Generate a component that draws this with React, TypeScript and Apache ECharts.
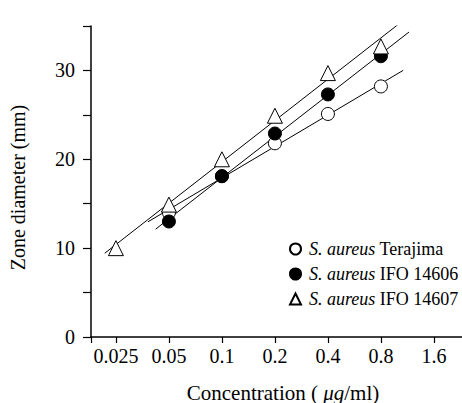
import React, { useEffect, useRef } from "react";
import * as echarts from "echarts";

const FONT = "Liberation Serif";
const BASE = 0.025;

const xTickValues = [0.025, 0.05, 0.1, 0.2, 0.4, 0.8, 1.6];
const xTickLabels = ["0.025", "0.05", "0.1", "0.2", "0.4", "0.8", "1.6"];

const strainNames = ["Terajima", "IFO 14606", "IFO 14607"];

const terajimaConc = [0.05, 0.1, 0.2, 0.4, 0.8];
const terajimaZone = [14.0, 18.1, 21.8, 25.1, 28.2];
const terajimaFitRange = [0.038, 1.07];

const ifo14606Conc = [0.05, 0.1, 0.2, 0.4, 0.8];
const ifo14606Zone = [13.0, 18.1, 22.9, 27.3, 31.6];
const ifo14606FitRange = [0.042, 1.155];

const ifo14607Conc = [0.025, 0.05, 0.1, 0.2, 0.4, 0.8];
const ifo14607Zone = [10.0, 14.9, 20.0, 24.9, 29.7, 32.7];
const ifo14607FitRange = [0.0216, 1.17];

const pos = (c: number) => Math.log2(c / BASE);

function fit(conc: number[], zone: number[], range: number[]) {
  const xs = conc.map(pos);
  const n = xs.length;
  const mx = xs.reduce((a, b) => a + b, 0) / n;
  const my = zone.reduce((a, b) => a + b, 0) / n;
  let sxy = 0;
  let sxx = 0;
  for (let i = 0; i < n; i++) {
    sxy += (xs[i] - mx) * (zone[i] - my);
    sxx += (xs[i] - mx) * (xs[i] - mx);
  }
  const slope = sxy / sxx;
  return range.map((c) => {
    const x = pos(c);
    return [x, my + slope * (x - mx)];
  });
}

export default function App() {
  const ref = useRef<HTMLDivElement>(null);
  useEffect(() => {
    if (!ref.current) return;
    const chart = echarts.init(ref.current, null, { renderer: "svg" });
    const xMin = -0.47;
    const xMax = 6.53;
    const groups = [
      { name: "S. aureus " + strainNames[0], conc: terajimaConc, zone: terajimaZone, range: terajimaFitRange, symbol: "circle", fill: "#fff", size: 13 },
      { name: "S. aureus " + strainNames[1], conc: ifo14606Conc, zone: ifo14606Zone, range: ifo14606FitRange, symbol: "circle", fill: "#000", size: 13 },
      { name: "S. aureus " + strainNames[2], conc: ifo14607Conc, zone: ifo14607Zone, range: ifo14607FitRange, symbol: "triangle", fill: "#fff", size: 15 },
    ];
    const series: any[] = [];
    groups.forEach((g) => {
      series.push({
        type: "line",
        data: fit(g.conc, g.zone, g.range),
        symbol: "none",
        lineStyle: { color: "#000", width: 1 },
        z: 1,
        silent: true,
      });
    });
    groups.forEach((g) => {
      series.push({
        type: "scatter",
        name: g.name,
        data: g.conc.map((c, i) => [pos(c), g.zone[i]]),
        symbol: g.symbol,
        symbolSize: g.size,
        itemStyle: { color: g.fill, borderColor: "#000", borderWidth: 1, opacity: 1 },
        z: 3,
      });
    });
    const tickPositions = xTickValues.map(pos);
    chart.setOption({
      animation: false,
      backgroundColor: "#fff",
      grid: { left: 91, right: 0, top: 26, bottom: 66, containLabel: false, outerBoundsMode: "none" },
      xAxis: {
        type: "value",
        min: xMin,
        max: xMax,
        splitLine: { show: false },
        axisLine: { onZero: false, lineStyle: { color: "#000", width: 1.5 } },
        axisTick: { show: true, length: 6, customValues: [xMin, ...tickPositions], lineStyle: { color: "#000", width: 1.2 } },
        axisLabel: {
          customValues: tickPositions,
          formatter: (v: number) => {
            const i = tickPositions.findIndex((p) => Math.abs(p - v) < 1e-6);
            return i >= 0 ? xTickLabels[i] : "";
          },
          color: "#000",
          fontFamily: FONT,
          fontSize: 20,
          margin: 9,
        },
        name: "Concentration ( {mu|μg}/ml)",
        nameLocation: "middle",
        nameGap: 45,
        nameTextStyle: {
          color: "#000",
          fontFamily: FONT,
          fontSize: 21,
          lineHeight: 21,
          padding: [0, 0, 0, 13],
          rich: { mu: { fontFamily: FONT, fontStyle: "italic", fontSize: 21, lineHeight: 21, color: "#000" } },
        },
      },
      yAxis: {
        type: "value",
        min: 0,
        max: 35,
        interval: 5,
        splitLine: { show: false },
        axisLine: { onZero: false, lineStyle: { color: "#000", width: 1.5 } },
        axisTick: { show: true, length: 8, lineStyle: { color: "#000", width: 1.2 } },
        axisLabel: {
          formatter: (v: number) => (v % 10 === 0 ? String(v) : ""),
          color: "#000",
          fontFamily: FONT,
          fontSize: 20,
          margin: 16,
        },
        name: "Zone diameter (mm)",
        nameLocation: "middle",
        nameRotate: 90,
        nameGap: 63,
        nameTextStyle: { color: "#000", fontFamily: FONT, fontSize: 20, padding: [0, 12, 0, 0] },
      },
      legend: {
        orient: "vertical",
        left: 284,
        top: 235,
        itemWidth: 11,
        itemHeight: 11,
        itemGap: 7,
        data: groups.map((g) => g.name),
        formatter: (name: string) => "{i|S. aureus} " + name.replace("S. aureus ", ""),
        textStyle: {
          color: "#000",
          fontFamily: FONT,
          fontSize: 18,
          lineHeight: 18,
          padding: [0, 0, 0, 3],
          rich: { i: { fontFamily: FONT, fontStyle: "italic", fontSize: 18, lineHeight: 18, color: "#000" } },
        },
      },
      series,
    });
    return () => chart.dispose();
  }, []);
  return <div ref={ref} style={{ position: "fixed", left: 0, top: 0, width: 462, height: 403 }} />;
}
